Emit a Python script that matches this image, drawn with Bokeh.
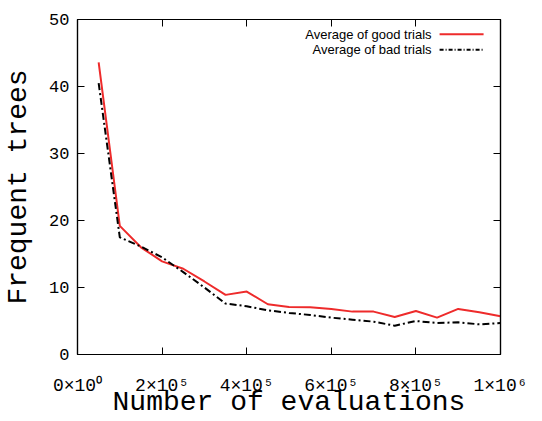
from bokeh.plotting import figure
from bokeh.models import LinearAxis, Range1d, FixedTicker, Label
from bokeh.embed import file_html
from bokeh.resources import INLINE

# ---- data ----
EVALS = [50000, 100000, 150000, 200000, 250000, 300000, 350000, 400000, 450000, 500000,
         550000, 600000, 650000, 700000, 750000, 800000, 850000, 900000, 950000, 1000000]
GOOD = [43.6, 19.2, 16.0, 13.9, 12.8, 10.9, 8.9, 9.4, 7.5, 7.1,
        7.05, 6.8, 6.4, 6.4, 5.6, 6.5, 5.5, 6.8, 6.3, 5.7]
BAD = [40.5, 17.5, 16.1, 14.5, 12.3, 10.0, 7.6, 7.2, 6.6, 6.2,
       5.9, 5.5, 5.2, 4.9, 4.3, 5.0, 4.7, 4.8, 4.5, 4.7]

X_TICKS = [0, 200000, 400000, 600000, 800000, 1000000]
X_TICK_LABELS = ["0×10⁰", "2×10⁵", "4×10⁵", "6×10⁵", "8×10⁵", "1×10⁶"]
Y_TICKS = [0, 10, 20, 30, 40, 50]
SERIES_NAMES = ["Average of good trials", "Average of bad trials"]
X_TITLE = "Number of evaluations"
Y_TITLE = "Frequent trees"

RED = "#ee2b2b"
MONO = "Liberation Mono"
SANS = "Liberation Sans"
DASHDOT = "7 3 2 3"

p = figure(width=542, height=421, output_backend="svg", toolbar_location=None,
           x_range=Range1d(0, 1000000), y_range=Range1d(0, 50),
           min_border_left=77, min_border_right=42, min_border_top=19, min_border_bottom=67,
           x_axis_label=X_TITLE, y_axis_label=Y_TITLE)
p.background_fill_color = "white"
p.border_fill_color = "white"
p.outline_line_color = "black"
p.outline_line_width = 1.2
p.xgrid.visible = False
p.ygrid.visible = False

def style_axis(ax, labels=True):
    ax.major_tick_in = 7
    ax.major_tick_out = 0
    ax.minor_tick_line_color = None
    ax.axis_line_color = "black"
    ax.axis_line_width = 1.2
    ax.major_tick_line_color = "black"
    ax.major_tick_line_width = 1
    if labels:
        ax.major_label_text_font = MONO
        ax.major_label_text_font_size = "17px"
        ax.major_label_text_color = "black"
        ax.axis_label_text_font = MONO
        ax.axis_label_text_font_size = "28px"
        ax.axis_label_text_font_style = "normal"
        ax.axis_label_text_color = "black"
    else:
        ax.major_label_text_color = None
        ax.major_label_text_font_size = "1px"
        ax.major_label_standoff = 0

xa = p.xaxis[0]
xa.ticker = FixedTicker(ticks=X_TICKS)
xa.major_label_overrides = {t: lab for t, lab in zip(X_TICKS, X_TICK_LABELS)}
style_axis(xa)
xa.major_label_text_font_size = "18px"
xa.major_label_standoff = 21
xa.axis_label_standoff = -12

ya = p.yaxis[0]
ya.ticker = FixedTicker(ticks=Y_TICKS)
style_axis(ya)
ya.major_label_standoff = 8
ya.axis_label_standoff = 12

top = LinearAxis(ticker=FixedTicker(ticks=X_TICKS))
style_axis(top, labels=False)
p.add_layout(top, "above")
right = LinearAxis(ticker=FixedTicker(ticks=Y_TICKS))
style_axis(right, labels=False)
p.add_layout(right, "right")

p.line(EVALS, GOOD, line_color=RED, line_width=2)
p.line(EVALS, BAD, line_color="black", line_width=2, line_dash=DASHDOT)

# ---- legend (gnuplot style: text left, sample right) ----
LEG_X0, LEG_X1 = 856000, 960000
LEG_Y = [47.8, 45.5]
p.line([LEG_X0, LEG_X1], [LEG_Y[0], LEG_Y[0]], line_color=RED, line_width=2)
p.line([LEG_X0, LEG_X1], [LEG_Y[1], LEG_Y[1]], line_color="black", line_width=2, line_dash="4 2 1 2")
for name, yy in zip(SERIES_NAMES, LEG_Y):
    p.add_layout(Label(x=837000, y=yy, text=name, text_align="right", text_baseline="middle",
                       text_font=SANS, text_font_size="13px", text_color="black"))

open("out.html", "w").write(file_html(p, INLINE))
